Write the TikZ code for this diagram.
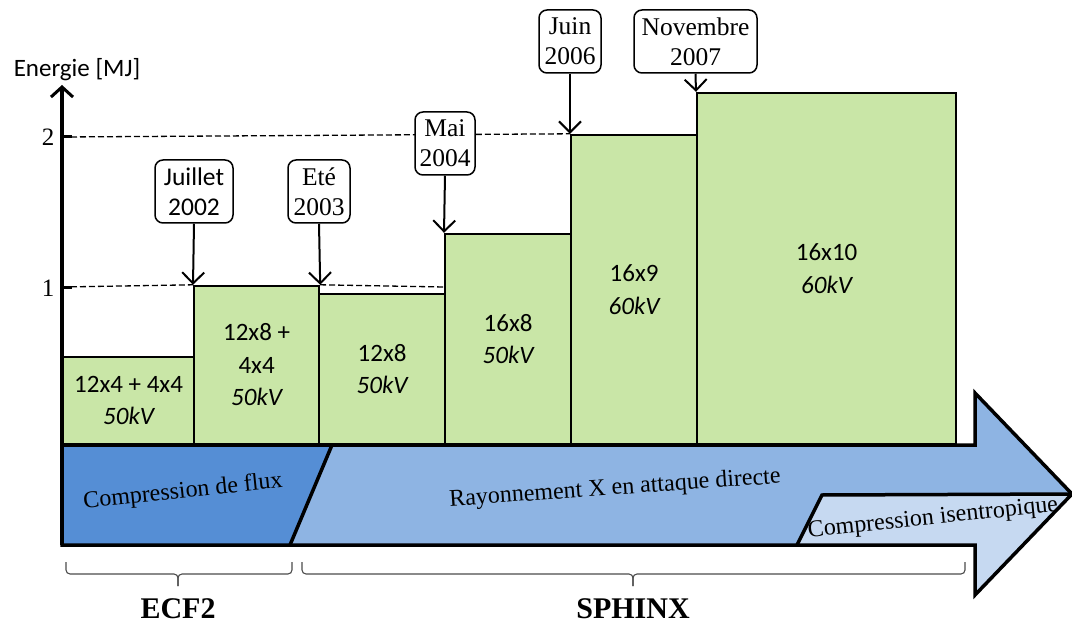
\documentclass[tikz,border=0pt]{standalone}
\usepackage{fontspec}
\setmainfont{Liberation Serif}
\newfontfamily\calibri{Carlito}
\usetikzlibrary{arrows.meta}
\definecolor{bargreen}{RGB}{201,230,167}
\definecolor{darkblue}{RGB}{85,142,213}
\definecolor{midblue}{RGB}{142,180,227}
\definecolor{paleblue}{RGB}{198,217,241}
\begin{document}
\begin{tikzpicture}[x=1pt,y=-1pt,
 bar/.style={draw=black,line width=2.2pt,fill=bargreen,anchor=south west,align=center,
   font=\calibri\fontsize{25}{32.5}\selectfont,inner sep=0pt},
 callout/.style={draw=black,line width=1.5pt,fill=white,rounded corners=8pt,align=center,
   minimum height=63pt,inner sep=0pt,font=\fontsize{25.5}{30}\selectfont},
 callarrow/.style={line width=2pt,-{Straight Barb[length=11pt,width=22pt,line width=2pt]}},
 level/.style={line width=1.3pt,dash pattern=on 6pt off 3pt},
 outline/.style={draw=black,line width=3.5pt,line join=miter},
 phase/.style={font=\fontsize{24}{28}\selectfont},
 bracestyle/.style={draw=black!70,line width=1.1pt,rounded corners=4pt},
 project/.style={font=\bfseries\fontsize{30}{34}\selectfont,anchor=base},
 ticklab/.style={font=\fontsize{25}{28}\selectfont},
]
\useasboundingbox (0,0) rectangle (1072,623);

% bars
\node[bar,minimum width=131pt,minimum height=87pt] (b1) at (62,445) {12x4 + 4x4\\\itshape 50kV};
\node[bar,minimum width=125pt,minimum height=158pt] (b2) at (193,445) {12x8 +\\4x4\\\itshape 50kV};
\node[bar,minimum width=126pt,minimum height=150pt] (b3) at (318,445) {12x8\\\itshape 50kV};
\node[bar,minimum width=126pt,minimum height=210pt] (b4) at (444,445) {16x8\\\itshape 50kV};
\node[bar,minimum width=126pt,minimum height=309pt] (b5) at (570,445) {16x9\\\itshape 60kV};
\node[bar,minimum width=259pt,minimum height=351pt] (b6) at (696,445) {16x10\\\itshape 60kV};

% level lines
\coordinate (t1) at (62,287);
\coordinate (t2) at (62,137);
\coordinate (l1e) at (444,287);
\draw[level] (t1) -- (b2.north west);
\draw[level] (b2.north east) -- (l1e);
\draw[level] (t2) -- (b5.north west);
\draw[line width=3pt] (t1) -- ++(10,0);
\draw[line width=3pt] (t2) -- ++(10,0);
\node[ticklab] (n1) at (48,288) {1};
\node[ticklab] (n2) at (48,137) {2};

% big arrow
\coordinate (a1) at (62,445);
\coordinate (a2) at (975,445);
\coordinate (a3) at (975,393);
\coordinate (tip) at (1072,494);
\coordinate (a5) at (975,595);
\coordinate (a6) at (975,545);
\coordinate (a7) at (62,545);
\fill[midblue] (a1) -- (a2) -- (a3) -- (tip) -- (a5) -- (a6) -- (a7) -- cycle;
\fill[darkblue] (a1) -- (332,445) -- (290,545) -- (a7) -- cycle;
\fill[paleblue] (797,545) -- (822,495) -- (tip) -- (a5) -- (a6) -- cycle;
\draw[line width=3.5pt] (332,445) -- (290,545);
\draw[line width=3.5pt,line join=miter] (797,545) -- (822,495) -- (tip);
\draw[outline] (a1) -- (a2) -- (a3) -- (tip) -- (a5) -- (a6) -- (a7) -- cycle;

\node[phase,rotate=6] (cf) at (183,492) {Compression de flux};
\node[phase,rotate=4] (rx) at (615,489) {Rayonnement X en attaque directe};
\node[phase,rotate=6] (ci) at (933,519) {Compression isentropique};

% axis
\draw[line width=3.5pt,-{Straight Barb[length=10pt,width=22pt,line width=3pt]}] (a7) -- (62,85);
\node[font=\calibri\fontsize{25}{30}\selectfont,anchor=base] (ax) at (77,77) {Energie [MJ]};

% callouts
\node[callout,minimum width=78pt,font=\calibri\fontsize{25.5}{30}\selectfont] (c1) at (194,191.5) {Juillet\\2002};
\node[callout,minimum width=62pt] (c2) at (319,191.5) {Eté\\2003};
\node[callout,minimum width=60pt] (c3) at (445,143.5) {Mai\\2004};
\node[callout,minimum width=62pt] (c4) at (570,41.5) {Juin\\2006};
\node[callout,minimum width=123pt] (c5) at (695.5,41.5) {Novembre\\2007};
\draw[callarrow] (c1.south) -- (b2.north west);
\draw[callarrow] (c2.south) -- (b2.north east);
\draw[callarrow] (c3.south) -- (b4.north west);
\draw[callarrow] (c4.south) -- (b5.north west);
\draw[callarrow] (c5.south) -- (b6.north west);

% braces
\coordinate (e1) at (66,562);
\coordinate (em) at (178,586);
\coordinate (e2) at (292,562);
\coordinate (s1) at (302,562);
\coordinate (sm) at (633,586);
\coordinate (s2) at (965,562);
\draw[bracestyle] (e1) -- (e1 |- 0,574) -- (em |- 0,574) -- (em);
\draw[bracestyle] (em) -- (em |- 0,574) -- (e2 |- 0,574) -- (e2);
\draw[bracestyle] (s1) -- (s1 |- 0,574) -- (sm |- 0,574) -- (sm);
\draw[bracestyle] (sm) -- (sm |- 0,574) -- (s2 |- 0,574) -- (s2);
\node[project] (ecf) at (178,618) {ECF2};
\node[project] (sph) at (633,618) {SPHINX};
\end{tikzpicture}
\end{document}
